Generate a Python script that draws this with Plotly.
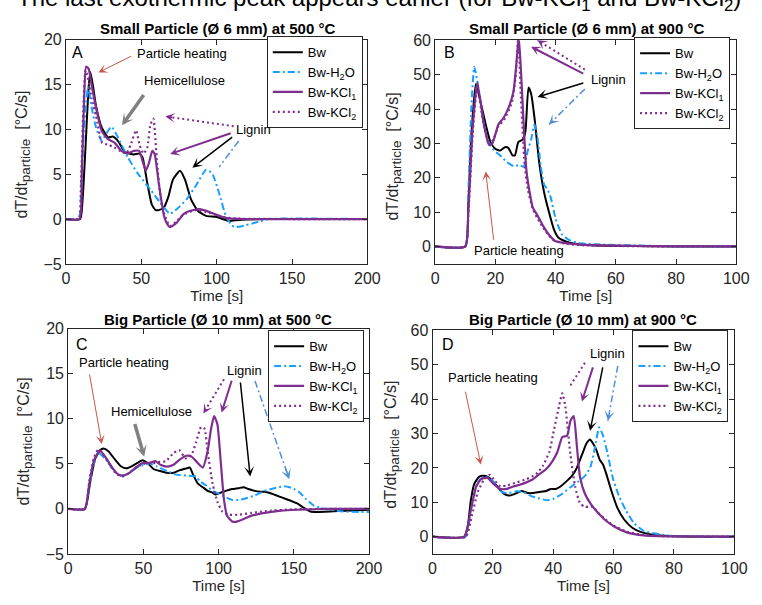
import plotly.graph_objects as go

# ---------------- data: particle heating rate dT/dt [°C/s] vs time [s] ----------------
# Panel A: small particle (6 mm) at 500 °C
A_BW_T = [0, 9.5, 11, 13, 15, 16.2, 18, 20, 23.8, 28, 31, 34.6, 39, 45, 48.6, 50.8, 54, 57, 59.5, 61.6,
          65, 68, 71, 75.7, 79, 83, 87.6, 93, 99.5, 108, 114.6, 132, 200]
A_BW = [0, 0, 2, 8, 14.5, 16.4, 14.8, 12.6, 10.2, 9.1, 9.2, 8.7, 7.5, 7.2, 7.3, 6.9, 4.0, 1.6, 1.0, 1.0,
        1.3, 2.5, 4.4, 5.4, 4.4, 2.2, 0.9, 0.36, 0.25, -0.2, -0.1, 0, 0]
A_H2O_T = [0, 8.5, 10, 12, 14.7, 17, 20, 23.8, 27, 30.3, 35.7, 41, 47.6, 56, 62.7, 69, 73.5, 80, 86.5, 93,
           97, 101.6, 106, 110, 112.4, 119, 127.6, 134, 200]
A_H2O = [0, 0, 3, 10, 14.7, 12.5, 10.2, 8.7, 9.6, 10.3, 8.7, 6.9, 5.1, 3.3, 1.8, 0.6, 1.1, 2.2, 3.8, 5.5,
         5.1, 2.9, 0.4, -0.7, -0.9, -0.7, -0.3, 0, 0]
A_KCL1_T = [0, 9, 10.5, 12, 13.4, 15, 17, 19.5, 23.8, 28, 32.4, 36.8, 41, 45, 48.6, 50.8, 53, 55, 57.3,
            58.8, 61.6, 65, 67, 69, 73.5, 78, 82, 88.6, 95, 101.6, 108, 120, 200]
A_KCL1 = [0, 0, 5, 13, 17, 16.8, 15, 12.8, 9.8, 8.9, 8.5, 7.6, 7.3, 7.6, 7.6, 6.5, 5.4, 6.2, 7.6,
          7.3, 4.0, 0.4, -0.5, -0.9, -0.4, 0.55, 0.9, 1.1, 0.8, 0.36, 0.07, 0, 0]
A_KCL2_T = [0, 8.5, 10, 11.5, 13, 15, 17, 20, 24, 28, 32, 36, 40, 43, 46.5, 49, 51.5, 54, 56, 58, 60.5,
            62.7, 64.5, 66, 69, 73, 78, 86, 95, 105, 115, 200]
A_KCL2 = [0, 0, 4, 12, 16.6, 15.5, 13.5, 11.5, 8.5, 8.3, 8.0, 7.6, 7.3, 8.3, 9.9, 8.2, 7.3, 8.0, 10.5,
          11.2, 6.2, 2.5, 1.0, 0.2, -0.8, -0.3, 0.5, 1.0, 0.7, 0.2, 0.05, 0]

# Panel B: small particle (6 mm) at 900 °C
B_BW_T = [0, 10, 11, 12, 13.5, 15.1, 16.8, 18.4, 20, 21.6, 23.2, 24.3, 25.7, 26.5, 27.6, 29.2, 30, 31,
          31.9, 33, 34.6, 36.2, 37.8, 39.5, 41, 43.2, 46.5, 50.8, 56, 67, 80, 100]
B_BW = [0, 0, 12, 32, 47.3, 42, 35.5, 30.3, 28.4, 27.9, 28.9, 28.7, 26.5, 26.5, 30.3, 31.2, 33.6, 46.3,
        44.4, 37.4, 24.2, 15.7, 10, 4.8, 2.5, 1.5, 0.75, 0.4, 0.2, 0.1, 0, 0]
B_H2O_T = [0, 10, 11, 12, 13, 14.6, 16.2, 17.8, 19.5, 21.6, 23.8, 26, 28, 29.4, 30.8, 31.9, 33, 34,
           35.1, 36.2, 37.3, 38.4, 40, 42.2, 44.3, 47.6, 54, 70, 85, 100]
B_H2O = [0, 0, 15, 40, 52.3, 45, 35.5, 30.3, 28, 26.5, 24.6, 23.4, 23.7, 23.2, 28, 31.2, 35.5, 31.7,
         23.2, 18, 16.6, 14.2, 8.1, 3.4, 2.0, 1.0, 0.6, 0.2, 0, 0]
B_KCL1_T = [0, 10, 11, 12.5, 14, 16.2, 17.8, 18.9, 20, 21, 22.7, 24.3, 26, 27, 27.8, 28.6, 29.4, 30.3,
            31.4, 32.4, 34, 35.7, 37.8, 40, 45.4, 52, 70, 100]
B_KCL1 = [0, 0, 10, 35, 47.7, 35.5, 29.8, 29.8, 32.6, 35.5, 37.4, 40.2, 45, 53.4, 61, 49.6, 35.5, 22.3,
          15.7, 11.4, 9, 6.2, 3.4, 1.5, 0.75, 0.4, 0.1, 0]
B_KCL2_T = [0, 10, 11, 12.5, 14, 16, 18, 19.5, 21, 23, 25.5, 26.8, 27.6, 28.4, 29.7, 30.8, 32.4, 34.6,
            36.8, 39, 43, 50, 70, 100]
B_KCL2 = [0, 0, 9, 33, 46.5, 36, 29.5, 31.5, 35, 37, 42, 50, 61, 45, 24, 16.6, 11, 7.2,
          4.3, 2, 0.8, 0.3, 0.05, 0]

# Panel C: big particle (10 mm) at 500 °C
C_BW_T = [0, 11, 14.7, 18, 21.2, 23.4, 26.7, 31, 35.3, 38.6, 41.8, 46, 49.4, 52.7, 57, 61.3, 65.7, 70,
          74.3, 78.7, 80.8, 83, 86.2, 89.5, 92.7, 96, 98, 101.4, 104.7, 109, 113.3, 116.6, 119.8, 124,
          127.4, 130.7, 135, 141.5, 148, 152.3, 156.7, 161, 165.3, 174, 184.8, 200]
C_BW = [0, 0, 3.1, 5.6, 6.5, 6.7, 6.4, 5.5, 4.7, 4.5, 4.7, 5.1, 5.4, 5.1, 4.4, 4.2, 4.0, 4.0,
        4.3, 4.5, 4.6, 3.8, 2.8, 2.4, 2.0, 1.8, 1.6, 1.8, 2.0, 2.2, 2.3, 2.4, 2.2, 2.0,
        1.9, 1.9, 1.7, 1.3, 0.9, 0.6, 0.1, -0.3, -0.35, -0.3, -0.2, -0.1]
C_H2O_T = [0, 11, 14, 17, 20, 24.5, 28.8, 33, 36.4, 40.7, 46, 50.5, 54.8, 59, 65.7, 72, 78.7, 85, 87.3,
           91.7, 96, 100, 104.7, 109, 113.3, 117.7, 124, 130.7, 137, 143.6, 149, 153.4, 157.7, 163,
           168.6, 174, 182.7, 200]
C_H2O = [0, 0, 2.5, 5.0, 6.2, 5.6, 4.6, 3.8, 3.7, 4.0, 4.6, 4.9, 5.0, 4.7, 4.2, 3.8, 3.7, 3.6, 3.1,
         2.6, 2.0, 1.7, 1.3, 1.0, 1.0, 1.15, 1.5, 2.0, 2.3, 2.5, 2.3, 1.9, 1.15, 0.4,
         0.07, -0.1, -0.3, -0.35]
C_KCL1_T = [0, 11, 14, 17, 21, 24.5, 28.8, 33, 36.4, 40.7, 45, 49.4, 53.7, 58, 61.3, 65.7, 70, 74.3,
            78.7, 82, 85, 89.5, 92.7, 95, 97, 99.2, 101.4, 103.6, 105.7, 109, 111, 115.5, 122, 130.7,
            141.5, 152.3, 174, 200]
C_KCL1 = [0, 0, 2.8, 5.3, 6.5, 5.8, 4.7, 3.85, 3.7, 4.0, 4.6, 5.1, 5.1, 5.3, 4.9, 4.7, 4.9, 5.5,
          5.9, 5.8, 5.3, 4.6, 6.4, 8.9, 10.3, 9.4, 5.3, 1.0, -0.8, -1.4, -1.45, -1.2, -0.75, -0.45,
          -0.2, -0.1, 0, 0]
C_KCL2_T = [0, 11, 14, 17, 20, 24, 28, 32, 36, 40, 45, 50, 55, 60, 65, 70, 74, 78, 82, 85, 88.4, 90.6,
            92.7, 96, 99.2, 102.5, 107, 113, 122, 131, 150, 175, 200]
C_KCL2 = [0, 0, 3.0, 5.6, 6.6, 5.9, 4.8, 3.9, 3.6, 3.9, 4.6, 5.0, 5.0, 5.2, 5.3, 6.2, 6.5, 5.6, 6.0,
          7.4, 9.1, 8.9, 6.4, 2.8, 0.8, -0.3, -0.65, -0.65, -0.45, -0.25, -0.05, 0, 0]

# Panel D: big particle (10 mm) at 900 °C
D_BW_T = [0, 10.5, 11.7, 12.7, 13.8, 15.4, 17, 18.7, 20.3, 22.5, 24, 25.7, 27.9, 29.5, 31.6, 33.3, 35.4,
          37.6, 39.2, 40.8, 42.4, 44, 46.2, 47.8, 49.5, 51, 52.2, 53.2, 54.3, 55.4, 56.5, 57.6, 59.2,
          61.3, 63.5, 66.2, 68.9, 73.2, 78.6, 90, 100]
D_BW = [0, 0, 3.1, 10.6, 15.3, 17.4, 17.7, 17.2, 15.8, 13.5, 12.3, 12.0, 12.7, 13.3, 12.7, 12.7, 13.0,
        13.3, 13.9, 13.9, 14.6, 15.8, 17.7, 20, 23.8, 27.1, 28.3, 27.1, 25.2, 22.4, 21, 18.2, 13.5,
        8.3, 5, 2.6, 1.4, 0.56, 0.2, 0, 0]
D_H2O_T = [0, 11, 12.7, 14.9, 17, 18.7, 20.8, 23, 25.2, 27.9, 30, 32.7, 35.4, 38.1, 40.3, 43, 45.7,
           48.4, 50.5, 52.2, 53.8, 55.2, 56.5, 58.1, 59.7, 61.9, 64, 66.7, 70, 73.2, 78.6, 90, 100]
D_H2O = [0, 0, 7.8, 15.8, 17.4, 17.2, 15.3, 13, 12.7, 13.2, 13, 11.8, 11.1, 10.6, 11.1, 12.5, 14.4,
         16.1, 17.7, 20, 25.7, 31.8, 29.4, 23.8, 17.2, 11.6, 7.8, 4.0, 1.7, 1.0, 0.3, 0, 0]
D_KCL1_T = [0, 10.5, 12.7, 14.4, 16, 18.1, 20.3, 22.5, 24.6, 26.8, 28.9, 31.1, 33.3, 35.4, 37.6, 39.7,
            41.4, 43, 44.6, 45.7, 46.8, 47.8, 48.9, 50.5, 52.7, 54.9, 57, 60.3, 64.6, 70, 80, 100]
D_KCL1 = [0, 0, 7.8, 14.4, 16.7, 17.2, 15.3, 13.9, 13.9, 14.6, 15.1, 15.8, 16.7, 18.2, 19.6, 21.9,
          24.7, 29, 29.4, 33.7, 35.1, 26.6, 17.2, 12.5, 9.2, 6.9, 5, 2.9, 1.2, 0.4, 0.1, 0]
D_KCL2_T = [0, 11, 13, 15, 17, 19, 20.3, 22.5, 24.6, 27.9, 31, 34.3, 36.5, 38.7, 40.3, 41.9, 43, 44,
            45.7, 47.3, 48.9, 50.5, 52.2, 53.2, 54.9, 57, 60.3, 64.6, 70, 80, 100]
D_KCL2 = [0, 0, 6, 13, 16.5, 18, 16.7, 14.6, 14.9, 15.8, 16.7, 18.2, 20.5, 24.7, 31.3, 37.9, 41.7, 37.9,
          23.8, 14.4, 9.7, 8.7, 8.7, 8.7, 6.9, 5.2, 3.1, 1.4, 0.5, 0.05, 0]

SERIES = ["Bw", "Bw-H<sub>2</sub>O", "Bw-KCl<sub>1</sub>", "Bw-KCl<sub>2</sub>"]
PANEL_TITLES = ["Small Particle (Ø 6 mm) at 500 °C", "Small Particle (Ø 6 mm) at 900 °C",
                "Big Particle (Ø 10 mm) at 500 °C", "Big Particle (Ø 10 mm) at 900 °C"]
PANEL_LETTERS = ["A", "B", "C", "D"]
X_TICKS_500 = [0, 50, 100, 150, 200]
X_TICKS_900 = [0, 20, 40, 60, 80, 100]
Y_TICKS_500 = [-5, 0, 5, 10, 15, 20]
Y_TICKS_900 = [0, 10, 20, 30, 40, 50, 60]
X_TITLE = "Time [s]"
Y_TITLE = "dT/dt<sub><span style='font-size:13.5px'>particle</span></sub>  [°C/s]"
HEADER = "The last exothermic peak appears earlier (for Bw-KCl<sub>1</sub> and Bw-KCl<sub>2</sub>)"

# ---------------- styling ----------------
FONT = "Liberation Sans, Arial, Helvetica, sans-serif"
AXC = "#262626"
BLACK = "#000000"
BLUE = "#1A9FFF"
PURPLE = "#7E2F8E"
RED_ARROW = "#C9574C"
GRAY_ARROW = "#808080"
BLUE_ARROW = "#4F8FDA"
W, H = 762, 605

LINE_STYLES = [
    dict(color=BLACK, width=2, dash="solid"),
    dict(color=BLUE, width=2, dash="7px,3px,2px,3px"),
    dict(color=PURPLE, width=2.2, dash="solid"),
    dict(color=PURPLE, width=2.2, dash="2px,3px"),
]

panels = [
    dict(xs="x", ys="y", leg="legend", xr=[0, 200], yr=[-5, 20], xt=X_TICKS_500, yt=Y_TICKS_500,
         xdom=[0.0831, 0.4878], ydom=[0.5648, 0.9460],
         data=[(A_BW_T, A_BW), (A_H2O_T, A_H2O), (A_KCL1_T, A_KCL1), (A_KCL2_T, A_KCL2)]),
    dict(xs="x2", ys="y2", leg="legend2", xr=[0, 100], yr=[-5, 60], xt=X_TICKS_900, yt=Y_TICKS_900,
         xdom=[0.5787, 0.9829], ydom=[0.5653, 0.9450],
         data=[(B_BW_T, B_BW), (B_H2O_T, B_H2O), (B_KCL1_T, B_KCL1), (B_KCL2_T, B_KCL2)]),
    dict(xs="x3", ys="y3", leg="legend3", xr=[0, 200], yr=[-5, 20], xt=X_TICKS_500, yt=Y_TICKS_500,
         xdom=[0.0862, 0.4899], ydom=[0.0716, 0.4545],
         data=[(C_BW_T, C_BW), (C_H2O_T, C_H2O), (C_KCL1_T, C_KCL1), (C_KCL2_T, C_KCL2)]),
    dict(xs="x4", ys="y4", leg="legend4", xr=[0, 100], yr=[-5, 60], xt=X_TICKS_900, yt=Y_TICKS_900,
         xdom=[0.5752, 0.9803], ydom=[0.0716, 0.4517],
         data=[(D_BW_T, D_BW), (D_H2O_T, D_H2O), (D_KCL1_T, D_KCL1), (D_KCL2_T, D_KCL2)]),
]
LEGEND_POS = [(0.4816, 0.9520), (0.9746, 0.9500), (0.4834, 0.4520), (0.9724, 0.4520)]
YTITLE_POS = [(0.0092, 0.7504), (0.5078, 0.7479), (0.0122, 0.2628), (0.5052, 0.2579)]

fig = go.Figure()
layout = dict(
    width=W, height=H, margin=dict(l=0, r=0, t=0, b=0),
    paper_bgcolor="white", plot_bgcolor="white",
    font=dict(family=FONT, color=AXC, size=15),
)

for i, p in enumerate(panels):
    for (t, v), name, st in zip(p["data"], SERIES, LINE_STYLES):
        fig.add_trace(go.Scatter(
            x=t, y=v, name=name, mode="lines", xaxis=p["xs"], yaxis=p["ys"],
            legend=p["leg"], line=dict(shape="spline", smoothing=0.5, **st),
            hoverinfo="skip"))
    sfx = "" if i == 0 else str(i + 1)
    common = dict(showgrid=False, zeroline=False, showline=True, linecolor=AXC, linewidth=1,
                  mirror="ticks", ticks="inside", ticklen=5, tickcolor=AXC, tickwidth=1,
                  tickfont=dict(size=16, color=AXC, family=FONT))
    layout["xaxis" + sfx] = dict(
        common, domain=p["xdom"], range=p["xr"], tickvals=p["xt"], anchor=p["ys"],
        title=dict(text=X_TITLE, font=dict(size=15, color=AXC), standoff=2))
    layout["yaxis" + sfx] = dict(
        common, domain=p["ydom"], range=p["yr"], tickvals=p["yt"], anchor=p["xs"])
    lx, ly = LEGEND_POS[i]
    layout[p["leg"]] = dict(
        x=lx, y=ly, xref="paper", yref="paper", xanchor="right", yanchor="top",
        bgcolor="white", bordercolor=AXC, borderwidth=1,
        font=dict(size=13, color=BLACK, family=FONT), itemwidth=30, tracegroupgap=0)

annotations = []
shapes = []

# rotated y-axis titles
for tx, ty in YTITLE_POS:
    annotations.append(dict(x=tx, y=ty, xref="paper", yref="paper", text=Y_TITLE, showarrow=False,
                            textangle=-90, xanchor="left", yanchor="middle",
                            font=dict(size=16, color=AXC, family=FONT)))


def label(xs, ys, x, y, text, size=13, anchor="center", color=BLACK):
    annotations.append(dict(x=x, y=y, xref=xs, yref=ys, text=text, showarrow=False,
                            xanchor=anchor, yanchor="middle",
                            font=dict(size=size, color=color, family=FONT)))


def arrow(xs, ys, tail, tip, color, width, size, dash=None):
    if dash is None:
        annotations.append(dict(x=tip[0], y=tip[1], ax=tail[0], ay=tail[1], xref=xs, yref=ys,
                                axref=xs, ayref=ys, text="", showarrow=True, arrowhead=3,
                                arrowsize=size, arrowwidth=width, arrowcolor=color))
    else:
        shapes.append(dict(type="line", xref=xs, yref=ys, x0=tail[0], y0=tail[1],
                           x1=tip[0], y1=tip[1], line=dict(color=color, width=width, dash=dash)))
        f = 0.12
        stub = (tip[0] + (tail[0] - tip[0]) * f, tip[1] + (tail[1] - tip[1]) * f)
        annotations.append(dict(x=tip[0], y=tip[1], ax=stub[0], ay=stub[1], xref=xs, yref=ys,
                                axref=xs, ayref=ys, text="", showarrow=True, arrowhead=3,
                                arrowsize=size, arrowwidth=width, arrowcolor=color))


DOT = "2px,3px"
DASHDOT = "7px,3px,2px,3px"

# Panel A
label("x", "y", 3.0, 18.63, "A", size=16, anchor="left")
label("x", "y", 77.3, 18.45, "Particle heating")
arrow("x", "y", (44.3, 18.25), (21.6, 16.35), RED_ARROW, 1, 1.5)
label("x", "y", 79, 15.4, "Hemicellulose")
arrow("x", "y", (52.3, 14.0), (37.2, 10.45), GRAY_ARROW, 3.5, 0.55)
label("x", "y", 124.6, 10.0, "Lignin")
arrow("x", "y", (111.3, 10.35), (66, 11.45), PURPLE, 2, 0.8, DOT)
arrow("x", "y", (110.3, 9.63), (69.2, 7.26), PURPLE, 2, 0.8)
arrow("x", "y", (111.3, 9.26), (83.9, 5.73), BLACK, 1.5, 1.1)
arrow("x", "y", (114.6, 8.7), (101.6, 5.8), BLUE_ARROW, 1.5, 1.1, DASHDOT)

# Panel B
label("x2", "y2", 2.2, 56.6, "B", size=16, anchor="left")
label("x2", "y2", 57.6, 48.7, "Lignin")
arrow("x2", "y2", (49.7, 50.1), (31.9, 58.1), PURPLE, 2, 0.8)
arrow("x2", "y2", (49.7, 51.5), (34, 60), PURPLE, 2, 0.8, DOT)
arrow("x2", "y2", (49.7, 47.7), (34, 43.5), BLACK, 1.5, 1.1)
arrow("x2", "y2", (49.7, 45.8), (37.8, 35.5), BLUE_ARROW, 1.5, 1.1, DASHDOT)
label("x2", "y2", 27.8, -1.3, "Particle heating")
arrow("x2", "y2", (19.5, 1.5), (16.8, 21.8), RED_ARROW, 1, 1.5)

# Panel C
label("x3", "y3", 3.9, 18.3, "C", size=16, anchor="left")
label("x3", "y3", 37, 16.3, "Particle heating")
arrow("x3", "y3", (14, 15.1), (22.3, 7.2), RED_ARROW, 1, 1.5)
label("x3", "y3", 55.7, 10.8, "Hemicellulose")
arrow("x3", "y3", (44, 9.6), (50.5, 5.8), GRAY_ARROW, 3.5, 0.55)
label("x3", "y3", 117, 15.4, "Lignin")
arrow("x3", "y3", (103.6, 14.4), (89.9, 10.6), PURPLE, 2, 0.8, DOT)
arrow("x3", "y3", (109, 14.4), (102, 10.7), PURPLE, 2, 0.8)
arrow("x3", "y3", (114.4, 14.2), (121, 3.6), BLACK, 1.5, 1.1)
arrow("x3", "y3", (124.2, 14.2), (147, 3.3), BLUE_ARROW, 1.5, 1.1, DASHDOT)

# Panel D
label("x4", "y4", 2.5, 56.0, "D", size=16, anchor="left")
label("x4", "y4", 20.1, 46.4, "Particle heating")
arrow("x4", "y4", (10.8, 42.6), (16, 21), RED_ARROW, 1, 1.5)
label("x4", "y4", 58, 53.4, "Lignin")
arrow("x4", "y4", (50.5, 50.6), (45.7, 44), PURPLE, 2, 0.8, DOT)
arrow("x4", "y4", (53.3, 49.7), (49.5, 39.3), PURPLE, 2, 0.8)
arrow("x4", "y4", (56.5, 49.7), (52.2, 30.8), BLACK, 1.5, 1.1)
arrow("x4", "y4", (61.4, 49.7), (58.1, 33.7), BLUE_ARROW, 1.5, 1.1, DASHDOT)

# Panel titles (bold) and the figure header running off the top edge
TITLE_POS = [(0.2867, 0.9836), (0.7815, 0.9836), (0.2874, 0.4878), (0.7778, 0.4878)]
for (tx, ty), ttl in zip(TITLE_POS, PANEL_TITLES):
    annotations.append(dict(x=tx, y=ty, xref="paper", yref="paper", text="<b>" + ttl + "</b>",
                            showarrow=False, xanchor="center", yanchor="top",
                            font=dict(size=15, color=BLACK, family=FONT)))
annotations.append(dict(x=0.5033, y=1.0, xref="paper", yref="paper", text=HEADER, showarrow=False,
                        xanchor="center", yanchor="top", yshift=26,
                        font=dict(size=24, color=BLACK, family=FONT)))

layout["annotations"] = annotations
layout["shapes"] = shapes
fig.update_layout(**layout)
fig.write_html("out.html")
